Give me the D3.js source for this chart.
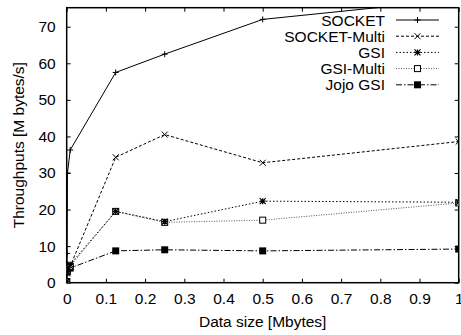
<!DOCTYPE html>
<html>
<head>
<script src="https://d3js.org/d3.v7.min.js"></script>
<style>
  body { margin: 0; background: #fff; }
  text { font-family: "Liberation Sans", Arial, sans-serif; font-size: 15.5px; fill: #000; }
</style>
</head>
<body>
<svg width="461" height="335"></svg>
<script>
// data sizes in Mbytes
var sizes = [0, 0.001, 0.002, 0.009, 0.125, 0.25, 0.5, 1];

var socket      = [0.3, 8, 30, 36.3, 57.5, 62.5, 72, 77.5];
var socketMulti = [0.3, 2.5, 3.5, 4.5, 34.3, 40.5, 32.8, 38.6];
var gsi         = [0.3, 3, 4, 5.0, 19.5, 16.7, 22.3, 22.0];
var gsiMulti    = [0.3, 3, 4, 4.5, 19.5, 16.5, 17.1, 21.8];
var jojo        = [0.3, 3, 3.5, 4.0, 8.7, 9.0, 8.7, 9.2];

var names = ["SOCKET", "SOCKET-Multi", "GSI", "GSI-Multi", "Jojo GSI"];
var xTicks = [0, 0.1, 0.2, 0.3, 0.4, 0.5, 0.6, 0.7, 0.8, 0.9, 1];
var yTicks = [0, 10, 20, 30, 40, 50, 60, 70];

var series = [
  { name: names[0], values: socket,      dash: null,        color: "#000", marker: "plus" },
  { name: names[1], values: socketMulti, dash: "3,2",       color: "#000", marker: "cross" },
  { name: names[2], values: gsi,         dash: "1.5,2",     color: "#000", marker: "star" },
  { name: names[3], values: gsiMulti,    dash: "1,1.5",     color: "#555", marker: "box" },
  { name: names[4], values: jojo,        dash: "6,2,1.5,2", color: "#000", marker: "fbox" }
];

var margin = { left: 66.7, right: 2.3, top: 7.7, bottom: 52.3 };
var W = 461, H = 335;
var svg = d3.select("svg");

var x = d3.scaleLinear().domain([0, 1]).range([margin.left, W - margin.right]);
var y = d3.scaleLinear().domain([0, 75.2]).range([H - margin.bottom, margin.top]);

svg.append("clipPath").attr("id", "clip")
  .append("rect")
  .attr("x", margin.left).attr("y", margin.top)
  .attr("width", W - margin.left - margin.right)
  .attr("height", H - margin.top - margin.bottom);

// axes with inner ticks
var tl = 4;
var gx = svg.append("g").attr("transform", "translate(0," + y(0) + ")")
  .call(d3.axisBottom(x).tickValues(xTicks).tickSizeInner(-tl).tickSizeOuter(0).tickPadding(10)
    .tickFormat(function(d) { return d === 0 || d === 1 ? d3.format("d")(d) : d3.format(".1f")(d); }));
var gxt = svg.append("g").attr("transform", "translate(0," + margin.top + ")")
  .call(d3.axisTop(x).tickValues(xTicks).tickSizeInner(-tl).tickSizeOuter(0).tickFormat(""));
var gy = svg.append("g").attr("transform", "translate(" + margin.left + ",0)")
  .call(d3.axisLeft(y).tickValues(yTicks).tickSizeInner(-tl).tickSizeOuter(0).tickPadding(11));
var gyr = svg.append("g").attr("transform", "translate(" + (W - margin.right) + ",0)")
  .call(d3.axisRight(y).tickValues(yTicks).tickSizeInner(-tl).tickSizeOuter(0).tickFormat(""));

[gx, gxt, gy, gyr].forEach(function(g) {
  g.select(".domain").remove();
  g.selectAll("text").style("font-size", "15.5px").style("font-family", "Liberation Sans, Arial, sans-serif");
  g.selectAll("line").attr("stroke", "#000");
});

// frame
svg.append("rect")
  .attr("x", margin.left).attr("y", margin.top)
  .attr("width", W - margin.left - margin.right)
  .attr("height", H - margin.top - margin.bottom)
  .attr("fill", "none").attr("stroke", "#000").attr("stroke-width", 1.5);

// axis labels
svg.append("text")
  .attr("x", (margin.left + W - margin.right) / 2).attr("y", 327)
  .attr("text-anchor", "middle")
  .text("Data size [Mbytes]");
svg.append("text")
  .attr("transform", "translate(24," + ((margin.top + H - margin.bottom) / 2) + ") rotate(-90)")
  .attr("text-anchor", "middle")
  .text("Throughputs [M bytes/s]");

function drawMarker(g, type, cx, cy, color) {
  var s = 3;
  if (type === "plus") {
    g.append("path").attr("d", "M" + (cx - s) + "," + cy + "h" + 2 * s + "M" + cx + "," + (cy - s) + "v" + 2 * s)
      .attr("stroke", color).attr("stroke-width", 1);
  } else if (type === "cross") {
    g.append("path").attr("d", "M" + (cx - s) + "," + (cy - s) + "l" + 2 * s + "," + 2 * s + "M" + (cx - s) + "," + (cy + s) + "l" + 2 * s + "," + (-2 * s))
      .attr("stroke", color).attr("stroke-width", 1);
  } else if (type === "star") {
    g.append("path").attr("d", "M" + (cx - s) + "," + (cy - s) + "l" + 2 * s + "," + 2 * s + "M" + (cx - s) + "," + (cy + s) + "l" + 2 * s + "," + (-2 * s) +
      "M" + (cx - s) + "," + cy + "h" + 2 * s + "M" + cx + "," + (cy - s) + "v" + 2 * s)
      .attr("stroke", color).attr("stroke-width", 1.2);
  } else if (type === "box") {
    g.append("rect").attr("x", cx - 3).attr("y", cy - 3).attr("width", 6).attr("height", 6)
      .attr("fill", "#fff").attr("stroke", "#000").attr("stroke-width", 1);
  } else if (type === "fbox") {
    g.append("rect").attr("x", cx - 3.5).attr("y", cy - 3.5).attr("width", 7).attr("height", 7)
      .attr("fill", "#000");
  }
}

var line = d3.line()
  .x(function(d) { return x(d[0]); })
  .y(function(d) { return y(d[1]); });

var plot = svg.append("g").attr("clip-path", "url(#clip)");

series.slice().reverse().forEach(function(s) {
  var pts = sizes.map(function(v, i) { return [v, s.values[i]]; });
  plot.append("path")
    .datum(pts)
    .attr("d", line)
    .attr("fill", "none")
    .attr("stroke", s.color)
    .attr("stroke-width", 1)
    .attr("stroke-dasharray", s.dash);
  var mg = plot.append("g");
  pts.forEach(function(p) { drawMarker(mg, s.marker, x(p[0]), y(p[1]), "#000"); });
});

// legend
var legend = svg.append("g");
series.forEach(function(s, i) {
  var ly = 20 + i * 16.2;
  legend.append("text")
    .attr("x", 385).attr("y", ly + 5.5)
    .attr("text-anchor", "end")
    .text(s.name);
  legend.append("line")
    .attr("x1", 396).attr("x2", 439).attr("y1", ly).attr("y2", ly)
    .attr("stroke", s.color).attr("stroke-width", 1)
    .attr("stroke-dasharray", s.dash);
  drawMarker(legend, s.marker, 417.5, ly, "#000");
});
</script>
</body>
</html>
